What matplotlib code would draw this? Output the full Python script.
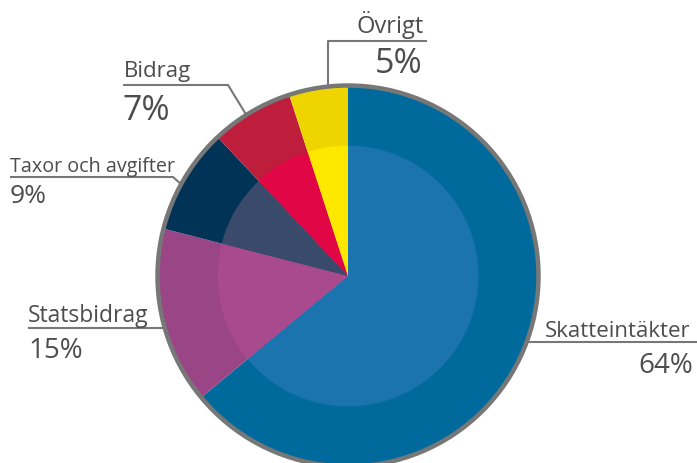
"""Pie chart of municipal revenue shares (Skatteintäkter, Statsbidrag, ...)."""
import matplotlib.pyplot as plt
from matplotlib.patches import Circle

labels = ["Skatteintäkter", "Statsbidrag", "Taxor och avgifter", "Bidrag", "Övrigt"]
shares = [64, 15, 9, 7, 5]
outer_colors = ["#006a9c", "#9a4585", "#013356", "#be1e3c", "#eed500"]
inner_colors = ["#1b74ae", "#a94a8e", "#394a6b", "#e10645", "#ffe800"]

W, H = 697, 464
TEXT = "#4d4d4d"
LINE = "#777777"

plt.rcParams["font.family"] = ["Open Sans", "DejaVu Sans"]

fig = plt.figure(figsize=(W / 100, H / 100), dpi=100)
ax = fig.add_axes([0, 0, 1, 1])

cx, cy, r = 348, H - 277, 189

ax.pie(shares, colors=outer_colors, radius=r, center=(cx, cy),
       startangle=90, counterclock=False, wedgeprops=dict(linewidth=0))
ax.pie(shares, colors=inner_colors, radius=r * 0.69, center=(cx, cy),
       startangle=90, counterclock=False, wedgeprops=dict(linewidth=0))
ax.add_patch(Circle((cx, cy), r + 1.5, fill=False, edgecolor=LINE, linewidth=3.2))

ax.set_xlim(0, W)
ax.set_ylim(0, H)
ax.set_aspect("equal")
ax.axis("off")


def line(xs, ys):
    ax.plot(xs, [H - y for y in ys], color=LINE, linewidth=1.5,
            solid_capstyle="butt", zorder=0)


def text(x, y, s, size, ha="left"):
    ax.text(x, H - y, s, fontsize=size, color=TEXT, ha=ha, va="baseline")


def pct(v):
    return f"{v}%"


# Skatteintäkter (right)
line([527, 697], [343, 343])
text(545, 337, labels[0], 16)
text(693, 373, pct(shares[0]), 20, ha="right")

# Statsbidrag (left)
line([28, 163], [329, 329])
text(28, 322, labels[1], 16.5)
text(28, 358, pct(shares[1]), 20)

# Taxor och avgifter
line([10, 173, 182], [178, 178, 186])
text(10, 172, labels[2], 14.2)
text(10, 203, pct(shares[2]), 19)

# Bidrag
line([123, 228, 247], [86, 86, 117])
text(124, 77, labels[3], 16)
text(123, 120, pct(shares[3]), 24.5)

# Övrigt
line([328, 328, 427], [88, 42, 42])
text(357, 33, labels[4], 17)
text(423, 73, pct(shares[4]), 24.5, ha="right")

fig.savefig("out.png", dpi=100)
